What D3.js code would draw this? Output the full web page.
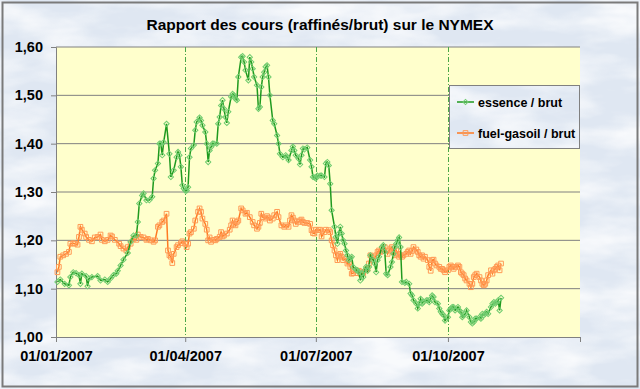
<!DOCTYPE html>
<html>
<head>
<meta charset="utf-8">
<script src="https://cdn.jsdelivr.net/npm/d3@7"></script>
<style>
  body { margin: 0; background: #fff; }
  svg { display: block; font-family: Arial, "Liberation Sans", sans-serif; }
</style>
</head>
<body>
<div id="chart"></div>
<script>
// jours depuis le 01/01/2007
const essenceJours = [1,3,6,9,10,12,14,16,17,18,21,22,23,25,29,31,34,36,38,40,42,43,45,47,50,52,54,56,57,58,60,61,63,65,67,68,69,71,72,73,74,75,77,79,80,82,84,85,86,87,88,89,90,91,92,93,94,96,97,98,100,101,102,104,105,106,107,108,109,110,112,113,114,115,116,117,118,119,120,122,123,124,125,126,127,129,130,131,132,134,135,136,137,138,140,141,142,143,144,145,146,147,148,149,151,152,154,155,156,158,160,161,162,164,165,166,167,169,170,171,172,173,175,177,178,179,180,181,182,184,185,187,188,189,190,191,192,194,195,196,197,198,199,200,201,202,203,204,205,206,207,209,210,211,212,213,214,215,216,217,218,219,221,222,223,224,225,227,228,229,230,231,233,234,235,236,237,238,239,240,241,243,244,246,247,248,249,251,252,253,254,255,256,258,259,260,261,262,263,264,266,267,268,269,270,271,273,274,275,276,277,278,280,281,282,283,284,285,286,288,289,290,291,292,293,295,296,297,298,299,300,301,303,304,305,306,307,308,309,310];
const essenceValeurs = [1.114,1.119,1.110,1.107,1.124,1.134,1.132,1.128,1.110,1.131,1.126,1.105,1.121,1.124,1.126,1.117,1.119,1.114,1.121,1.128,1.131,1.137,1.148,1.160,1.174,1.197,1.210,1.210,1.238,1.276,1.293,1.297,1.283,1.283,1.290,1.328,1.345,1.359,1.400,1.400,1.376,1.403,1.441,1.379,1.331,1.345,1.372,1.383,1.376,1.352,1.314,1.307,1.303,1.303,1.310,1.372,1.390,1.397,1.428,1.445,1.454,1.448,1.438,1.424,1.400,1.362,1.386,1.393,1.400,1.400,1.400,1.441,1.455,1.479,1.490,1.472,1.455,1.443,1.466,1.497,1.503,1.500,1.493,1.490,1.538,1.579,1.581,1.569,1.552,1.531,1.579,1.569,1.555,1.538,1.521,1.472,1.476,1.517,1.538,1.548,1.559,1.562,1.538,1.500,1.448,1.441,1.417,1.400,1.379,1.372,1.376,1.372,1.366,1.386,1.394,1.386,1.376,1.369,1.357,1.376,1.390,1.388,1.392,1.366,1.352,1.331,1.330,1.328,1.334,1.334,1.334,1.331,1.359,1.362,1.355,1.317,1.262,1.228,1.207,1.193,1.214,1.228,1.214,1.200,1.193,1.179,1.169,1.159,1.162,1.166,1.145,1.139,1.138,1.134,1.117,1.131,1.124,1.138,1.145,1.137,1.145,1.169,1.159,1.152,1.134,1.159,1.166,1.186,1.190,1.176,1.131,1.128,1.145,1.155,1.172,1.186,1.193,1.200,1.206,1.186,1.114,1.112,1.114,1.110,1.090,1.086,1.076,1.069,1.059,1.069,1.079,1.069,1.072,1.076,1.076,1.072,1.079,1.086,1.083,1.072,1.069,1.059,1.052,1.048,1.045,1.034,1.041,1.055,1.059,1.062,1.062,1.055,1.062,1.055,1.052,1.041,1.045,1.048,1.055,1.041,1.031,1.028,1.031,1.038,1.038,1.041,1.038,1.048,1.045,1.048,1.052,1.048,1.062,1.069,1.072,1.069,1.072,1.076,1.055,1.081];

const fuelJours = [1,2,3,5,7,9,10,12,13,15,16,17,18,20,21,23,25,27,29,31,32,34,36,38,39,41,44,45,47,49,50,52,54,56,57,59,61,63,64,66,68,69,71,72,74,75,77,78,79,80,81,82,84,85,87,88,90,91,92,93,94,96,97,99,100,101,102,104,105,106,107,108,110,111,112,114,115,116,117,119,121,122,123,124,125,126,127,129,130,132,133,135,137,138,140,141,142,143,144,146,147,148,149,151,152,154,155,157,159,160,162,163,164,165,166,167,169,170,171,172,173,175,177,178,179,180,181,183,184,185,187,188,190,191,192,193,194,195,196,197,198,199,200,202,203,204,205,206,207,209,210,211,212,213,214,216,217,218,219,220,221,223,224,225,226,227,228,229,231,232,233,234,235,236,237,238,239,240,241,242,244,245,246,247,248,249,251,252,253,254,255,256,257,259,260,261,262,263,264,265,267,268,269,270,271,273,274,275,276,277,278,280,281,282,283,284,285,286,288,289,290,291,292,293,295,296,297,298,299,300,301,303,304,305,306,307,308,309,310];
const fuelValeurs = [1.134,1.145,1.166,1.169,1.172,1.176,1.193,1.194,1.193,1.191,1.207,1.228,1.222,1.214,1.207,1.201,1.198,1.206,1.207,1.212,1.201,1.198,1.201,1.210,1.208,1.201,1.193,1.188,1.183,1.179,1.186,1.193,1.203,1.201,1.212,1.207,1.206,1.201,1.203,1.200,1.197,1.200,1.228,1.231,1.238,1.241,1.255,1.179,1.169,1.166,1.153,1.172,1.186,1.190,1.194,1.198,1.193,1.186,1.193,1.214,1.217,1.224,1.241,1.259,1.266,1.259,1.245,1.234,1.222,1.200,1.206,1.197,1.201,1.200,1.203,1.207,1.217,1.208,1.210,1.214,1.222,1.231,1.241,1.234,1.231,1.238,1.241,1.266,1.262,1.255,1.257,1.248,1.238,1.231,1.224,1.228,1.236,1.255,1.248,1.245,1.250,1.247,1.241,1.245,1.252,1.259,1.248,1.231,1.228,1.231,1.228,1.241,1.252,1.247,1.241,1.234,1.238,1.241,1.243,1.238,1.236,1.236,1.234,1.221,1.215,1.214,1.222,1.221,1.222,1.208,1.217,1.222,1.221,1.217,1.200,1.190,1.179,1.169,1.159,1.169,1.172,1.166,1.159,1.162,1.152,1.155,1.145,1.131,1.132,1.138,1.132,1.137,1.131,1.134,1.132,1.138,1.141,1.152,1.169,1.166,1.159,1.169,1.176,1.179,1.176,1.183,1.178,1.186,1.172,1.179,1.183,1.186,1.176,1.169,1.179,1.172,1.166,1.169,1.166,1.169,1.172,1.176,1.179,1.172,1.178,1.186,1.181,1.176,1.169,1.166,1.169,1.162,1.166,1.159,1.145,1.137,1.159,1.160,1.152,1.148,1.145,1.141,1.141,1.138,1.134,1.138,1.145,1.148,1.145,1.141,1.145,1.148,1.145,1.134,1.131,1.128,1.121,1.117,1.110,1.103,1.110,1.124,1.128,1.131,1.124,1.117,1.110,1.107,1.110,1.117,1.128,1.138,1.131,1.138,1.141,1.145,1.148,1.138,1.152];

const titre = "Rapport des cours (raffinés/brut) sur le NYMEX";
const nomsSeries = ["essence / brut", "fuel-gasoil / brut"];
const yTicks = [1.0, 1.1, 1.2, 1.3, 1.4, 1.5, 1.6];

const W = 640, H = 389;
const margin = { top: 47, right: 60, bottom: 52, left: 56 };
const width = W - margin.left - margin.right,
      height = H - margin.top - margin.bottom;

const debut = new Date(2007, 0, 1);
const jour = j => d3.timeDay.offset(debut, j);
const essence = essenceJours.map((j, i) => ({ date: jour(j), v: essenceValeurs[i] }));
const fuel = fuelJours.map((j, i) => ({ date: jour(j), v: fuelValeurs[i] }));

const svg = d3.select("#chart").append("svg")
    .attr("width", W)
    .attr("height", H);

// fond bleuté "marbré"
const defs = svg.append("defs");
const f = defs.append("filter").attr("id", "marbre")
    .attr("x", 0).attr("y", 0).attr("width", "100%").attr("height", "100%");
f.append("feTurbulence").attr("type", "fractalNoise")
    .attr("baseFrequency", "0.012 0.035").attr("numOctaves", 4).attr("seed", 7);
f.append("feColorMatrix").attr("type", "matrix")
    .attr("values", "0 0 0 0 1  0 0 0 0 1  0 0 0 0 1  0 0 0 -2.2 1.45");
f.append("feComposite").attr("in2", "SourceGraphic").attr("operator", "in");

svg.append("rect").attr("width", W).attr("height", H).attr("fill", "#dfe7f2");
svg.append("rect").attr("width", W).attr("height", H).attr("fill", "#dfe7f2")
    .attr("filter", "url(#marbre)").attr("opacity", 0.8);
svg.append("rect").attr("x", 2.5).attr("y", 2.5).attr("width", W - 5).attr("height", H - 5)
    .attr("fill", "none").attr("stroke", "#7a7a7a").attr("stroke-width", 2);

svg.append("text")
    .attr("x", 320).attr("y", 30)
    .attr("text-anchor", "middle")
    .style("font-size", "15.5px").style("font-weight", "bold")
    .text(titre);

const g = svg.append("g").attr("transform", `translate(${margin.left},${margin.top})`);

const x = d3.scaleTime()
    .domain([debut, new Date(2008, 0, 1)])
    .range([0, width]);
const y = d3.scaleLinear()
    .domain([1.0, 1.6])
    .range([height, 0]);

g.append("rect").attr("width", width).attr("height", height).attr("fill", "#ffffcc");

// grille horizontale
g.append("g").selectAll("line").data(yTicks.slice(1)).join("line")
    .attr("x1", 0).attr("x2", width)
    .attr("y1", d => y(d)).attr("y2", d => y(d))
    .attr("stroke", "#808080").attr("stroke-width", 1);

const xTicks = d3.timeMonth.every(3).range(debut, new Date(2008, 0, 2));

// grille verticale pointillée
g.append("g").selectAll("line").data(xTicks.slice(1, -1)).join("line")
    .attr("x1", d => Math.round(x(d)) + 0.5).attr("x2", d => Math.round(x(d)) + 0.5)
    .attr("y1", 0).attr("y2", height)
    .attr("stroke", "#4aa84a").attr("stroke-width", 1)
    .attr("stroke-dasharray", "5,2,1,2");

const fmt = d3.formatLocale({ decimal: ",", thousands: " ", grouping: [3], currency: ["", "€"] }).format(".2f");

const yAxis = g.append("g")
    .call(d3.axisLeft(y).tickValues(yTicks).tickFormat(fmt).tickSize(5).tickPadding(8));
const xAxis = g.append("g")
    .attr("transform", `translate(0,${height})`)
    .call(d3.axisBottom(x).tickValues(xTicks)
        .tickFormat(d => d.getFullYear() === 2008 ? "" : d3.timeFormat("%d/%m/%Y")(d))
        .tickSize(5).tickPadding(9));
[yAxis, xAxis].forEach(a => {
    a.select(".domain").attr("stroke", "#808080");
    a.selectAll(".tick line").attr("stroke", "#808080");
    a.selectAll("text").attr("fill", "#000")
        .style("font-size", "14.5px").style("font-weight", "bold")
        .style("font-family", "Arial, 'Liberation Sans', sans-serif");
});

const line = d3.line().x(d => x(d.date)).y(d => y(d.v));

const series = [
    { data: fuel, line: "#ff7a22", mark: "#ff9a55", sym: d3.symbolSquare, rot: 0, size: 22 },
    { data: essence, line: "#1f9a1f", mark: "#70cc70", sym: d3.symbolSquare, rot: 45, size: 14 }
];

series.forEach(s => {
    g.append("path").datum(s.data)
        .attr("d", line)
        .attr("fill", "none")
        .attr("stroke", s.line)
        .attr("stroke-width", 1.5);
    g.append("g").selectAll("path").data(s.data).join("path")
        .attr("d", d3.symbol(s.sym, s.size))
        .attr("transform", d => `translate(${x(d.date)},${y(d.v)}) rotate(${s.rot})`)
        .attr("fill", "none")
        .attr("stroke", s.mark)
        .attr("stroke-width", 1);
});

// légende
const lg = svg.append("g").attr("transform", "translate(449,85)");
lg.append("rect").attr("width", 130).attr("height", 63).attr("fill", "#dfe7f2");
lg.append("rect").attr("width", 130).attr("height", 63).attr("fill", "#dfe7f2")
    .attr("filter", "url(#marbre)").attr("opacity", 0.8);
lg.append("rect").attr("x", 0.5).attr("y", 0.5).attr("width", 130).attr("height", 63)
    .attr("fill", "none").attr("stroke", "#808080");

const legendItems = [series[1], series[0]];
legendItems.forEach((s, i) => {
    const yy = 17 + i * 31;
    lg.append("line").attr("x1", 8).attr("x2", 25).attr("y1", yy).attr("y2", yy)
        .attr("stroke", s.line).attr("stroke-width", 1.5);
    lg.append("path").attr("d", d3.symbol(s.sym, s.size))
        .attr("transform", `translate(16.5,${yy}) rotate(${s.rot})`)
        .attr("fill", "none").attr("stroke", s.mark);
    lg.append("text").attr("x", 29).attr("y", yy + 4.5)
        .style("font-size", "12.5px").style("font-weight", "bold")
        .text(nomsSeries[i]);
});
</script>
</body>
</html>
